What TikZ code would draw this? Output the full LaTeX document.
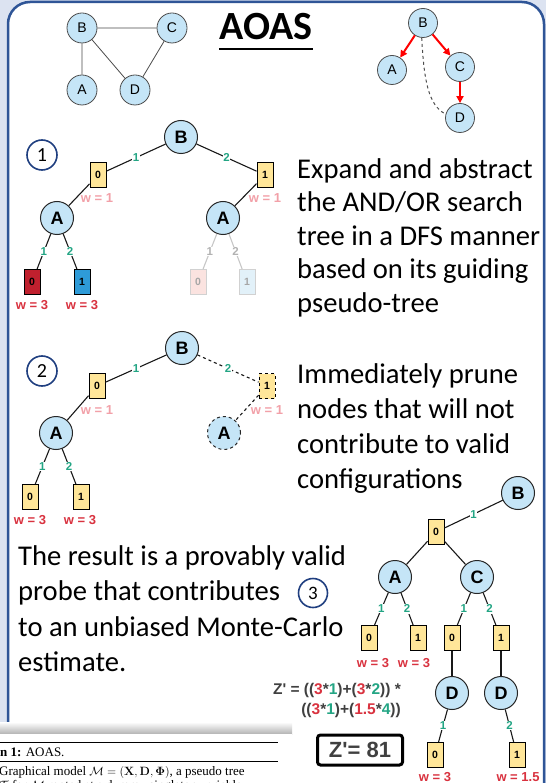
\documentclass[tikz,border=0pt]{standalone}
\usepackage[no-math]{fontspec}
\setmainfont{Carlito}
\newfontfamily\arialfont{Liberation Sans}
\newfontfamily\serffont{Liberation Serif}
\usetikzlibrary{arrows.meta}

\definecolor{bgc}{HTML}{DCE3F1}
\definecolor{framec}{HTML}{2F5597}
\definecolor{varblue}{HTML}{C5E5F7}
\definecolor{valyellow}{HTML}{FFE699}
\definecolor{labgreen}{HTML}{23A584}
\definecolor{wpink}{HTML}{F2A0A8}
\definecolor{wred}{HTML}{D9323F}
\definecolor{boxred}{HTML}{C0202E}
\definecolor{boxblue}{HTML}{2E9BD8}
\definecolor{fadepink}{HTML}{FBE3E0}
\definecolor{fadeblue}{HTML}{E2F1F9}
\definecolor{numblue}{HTML}{203F80}
\definecolor{formgrey}{HTML}{404040}

\newcommand\redn[1]{\textcolor{wred}{#1}}
\newcommand\grnn[1]{\textcolor{labgreen}{#1}}

\begin{document}
\begin{tikzpicture}[x=1pt, y=-1pt,
  var/.style={circle, draw=black!85, fill=varblue, line width=1pt, minimum size=33pt, inner sep=0pt, font=\arialfont\bfseries\fontsize{18}{18}\selectfont},
  gvar/.style={circle, draw=black!70, fill=varblue, line width=0.8pt, minimum size=30pt, inner sep=0pt, font=\arialfont\fontsize{14}{14}\selectfont},
  val/.style={rectangle, draw=black, fill=valyellow, line width=0.9pt, minimum width=16pt, minimum height=25pt, inner sep=0pt, font=\arialfont\bfseries\fontsize{10.5}{10.5}\selectfont},
  link/.style={line width=1.1pt, black!90},
  lbl/.style={fill=white, inner sep=0.6pt, text=labgreen, font=\arialfont\bfseries\fontsize{11.5}{11.5}\selectfont},
  wlight/.style={text=wpink, inner sep=0pt, font=\arialfont\bfseries\fontsize{13}{13}\selectfont},
  wdark/.style={text=wred, inner sep=0pt, font=\arialfont\bfseries\fontsize{13}{13}\selectfont},
  faded/.style={draw=black!18, text=black!35},
  stepno/.style={circle, draw=numblue, line width=1.6pt, minimum size=30pt, inner sep=0pt, font=\fontsize{20}{20}\selectfont},
  blurb/.style={anchor=north west, align=left, inner sep=0pt},
  redarrow/.style={red, line width=2pt, -{Triangle[length=7pt,width=7pt]}},
  formula/.style={anchor=east, inner sep=0pt, text=formgrey, font=\arialfont\bfseries\fontsize{15.5}{15.5}\selectfont},
  algtext/.style={anchor=base west, inner sep=0pt, font=\serffont\fontsize{13}{15}\selectfont}
]
\useasboundingbox (0,0) rectangle (546,783);
\clip (0,0) rectangle (546,783);

% SLIDE
\fill[bgc] (0,0) rectangle (546,783);
\draw[framec, line width=2.5pt, fill=white, rounded corners=22pt] (8,2) rectangle (544,900);

% GRAPHICAL MODEL
\node[gvar] (gB) at (82,28) {B};
\node[gvar] (gC) at (172,28) {C};
\node[gvar] (gA) at (82,90) {A};
\node[gvar] (gD) at (135,90) {D};
\draw[black!70, line width=0.8pt] (gB) -- (gC) (gB) -- (gA) (gB) -- (gD) (gC) -- (gD);

% TITLE
\node[inner sep=0pt, anchor=base, font=\bfseries\fontsize{40}{40}\selectfont] (Title) at (266,40) {AOAS};
\draw[line width=2.5pt] ([yshift=-9pt]Title.base west) -- ([yshift=-9pt]Title.base east);

% PSEUDO TREE
\node[gvar, minimum size=29pt] (pB) at (423,23) {B};
\node[gvar, minimum size=29pt] (pA) at (392,70) {A};
\node[gvar, minimum size=29pt] (pC) at (460,67) {C};
\node[gvar, minimum size=29pt] (pD) at (460,118) {D};
\draw[redarrow] (pB) -- (pA);
\draw[redarrow] (pB) -- (pC);
\draw[redarrow] (pC) -- (pD);
\draw[black!70, line width=1pt, dashed] (pB.-95) .. controls (424,80) and (428,105) .. (pD.165);

% STEP 1
\node[stepno] (Step1) at (42,155) {1};
\node[var] (aB) at (181,137) {B};
\node[val] (aL) at (98,175) {0};
\node[val] (aR) at (265,175) {1};
\node[var] (aAL) at (57,218) {A};
\node[var] (aAR) at (223,218) {A};
\node[val, fill=boxred] (aL0) at (32,282) {0};
\node[val, fill=boxblue] (aL1) at (82,282) {1};
\node[val, faded, fill=fadepink] (aR0) at (198,282) {0};
\node[val, faded, fill=fadeblue] (aR1) at (247,282) {1};
\draw[link] (aB) -- node[lbl] {1} (aL);
\draw[link] (aB) -- node[lbl] {2} (aR);
\draw[link] (aL) -- (aAL);
\draw[link] (aR) -- (aAR);
\draw[link] (aAL) -- node[lbl] {1} (aL0);
\draw[link] (aAL) -- node[lbl] {2} (aL1);
\draw[link, black!22] (aAR) -- node[lbl, text=black!30] {1} (aR0);
\draw[link, black!22] (aAR) -- node[lbl, text=black!30] {2} (aR1);
\node[wlight] at (97,198) {w = 1};
\node[wlight] at (265,198) {w = 1};
\node[wdark] at (32,305) {w = 3};
\node[wdark] at (82,305) {w = 3};
\node[blurb, font=\fontsize{28.6}{33.5}\selectfont] (Text1) at (297,158)
  {Expand and abstract\\the AND/OR search\\tree in a DFS manner\\based on its guiding\\pseudo-tree};

% STEP 2
\node[stepno] (Step2) at (42,371) {2};
\node[var] (bB) at (182,348) {B};
\node[val] (bL) at (97,386) {0};
\node[val, dashed] (bR) at (267,386) {1};
\node[var] (bAL) at (56,433) {A};
\node[var, dashed] (bAR) at (224,433) {A};
\node[val] (bL0) at (30,497) {0};
\node[val] (bL1) at (81,497) {1};
\draw[link] (bB) -- node[lbl] {1} (bL);
\draw[link, dashed] (bB) -- node[lbl] {2} (bR);
\draw[link] (bL) -- (bAL);
\draw[link, dashed] (bR) -- (bAR);
\draw[link] (bAL) -- node[lbl] {1} (bL0);
\draw[link] (bAL) -- node[lbl] {2} (bL1);
\node[wlight] at (97,410) {w = 1};
\node[wlight] at (267,410) {w = 1};
\node[wdark] at (30,520) {w = 3};
\node[wdark] at (80,520) {w = 3};
\node[blurb, font=\fontsize{28.6}{35}\selectfont] (Text2) at (297,363)
  {Immediately prune\\nodes that will not\\contribute to valid\\configurations};

% STEP 3
\node[var] (cB) at (518,493) {B};
\node[val] (c0) at (436,532) {0};
\node[var] (cA) at (395,577) {A};
\node[var] (cC) at (477,577) {C};
\node[val] (cA0) at (369,638) {0};
\node[val] (cA1) at (418,638) {1};
\node[val] (cC0) at (452,638) {0};
\node[val] (cC1) at (501,638) {1};
\node[var] (cD0) at (452,693) {D};
\node[var] (cD1) at (501,693) {D};
\node[val] (cD00) at (435,755) {0};
\node[val] (cD11) at (517,755) {1};
\draw[link] (cB) -- node[lbl] {1} (c0);
\draw[link] (c0) -- (cA);
\draw[link] (c0) -- (cC);
\draw[link] (cA) -- node[lbl] {1} (cA0);
\draw[link] (cA) -- node[lbl] {2} (cA1);
\draw[link] (cC) -- node[lbl] {1} (cC0);
\draw[link] (cC) -- node[lbl] {2} (cC1);
\draw[link] (cC0) -- (cD0);
\draw[link] (cC1) -- (cD1);
\draw[link] (cD0) -- node[lbl] {1} (cD00);
\draw[link] (cD1) -- node[lbl] {2} (cD11);
\node[wdark] at (373,663) {w = 3};
\node[wdark] at (414,663) {w = 3};
\node[wdark] at (435,777) {w = 3};
\node[wdark] at (518,777) {w = 1.5};
\node[blurb, font=\fontsize{28.6}{35.5}\selectfont] (Text3) at (18,545)
  {The result is a provably valid\\probe that contributes\\to an unbiased Monte-Carlo\\estimate.};
\node[stepno, minimum size=29pt, font=\fontsize{19}{19}\selectfont] (Step3) at (313,593) {3};

% Z' ESTIMATE
\node[formula] (Zline1) at (401,690) {Z\textquotesingle{} = ((\redn{3}*\grnn{1})+(\redn{3}*\grnn{2})) *};
\node[formula] (Zline2) at (401,710) {((\redn{3}*\grnn{1})+(\redn{1.5}*\grnn{4}))};
\node[draw, line width=3pt, rounded corners=3pt, minimum width=85pt, minimum height=30pt, text=formgrey,
  font=\arialfont\bfseries\fontsize{22}{22}\selectfont] (Zval) at (360,750) {Z\textquotesingle= 81};

% ALGORITHM SNIPPET
\shade[top color=white, bottom color=black!30] (0,722) rectangle (292,734);
\fill[white] (0,734) rectangle (292,783);
\draw[line width=0.8pt] (0,742) -- (278,742);
\draw[line width=0.6pt] (0,761) -- (278,761);
\node[algtext] (AlgTitle) at (0,756.5) {\textbf{n 1:} AOAS.};
\node[algtext] (AlgIn) at (-1,775.5) {Graphical model $\mathcal{M} = (\mathbf{X}, \mathbf{D}, \mathbf{\Phi})$, a pseudo tree};
\node[algtext] (AlgIn2) at (-1,789.5) {$\mathcal{T}$ for $\mathcal{M}$ rooted at a dummy singleton variable};
\end{tikzpicture}
\end{document}
